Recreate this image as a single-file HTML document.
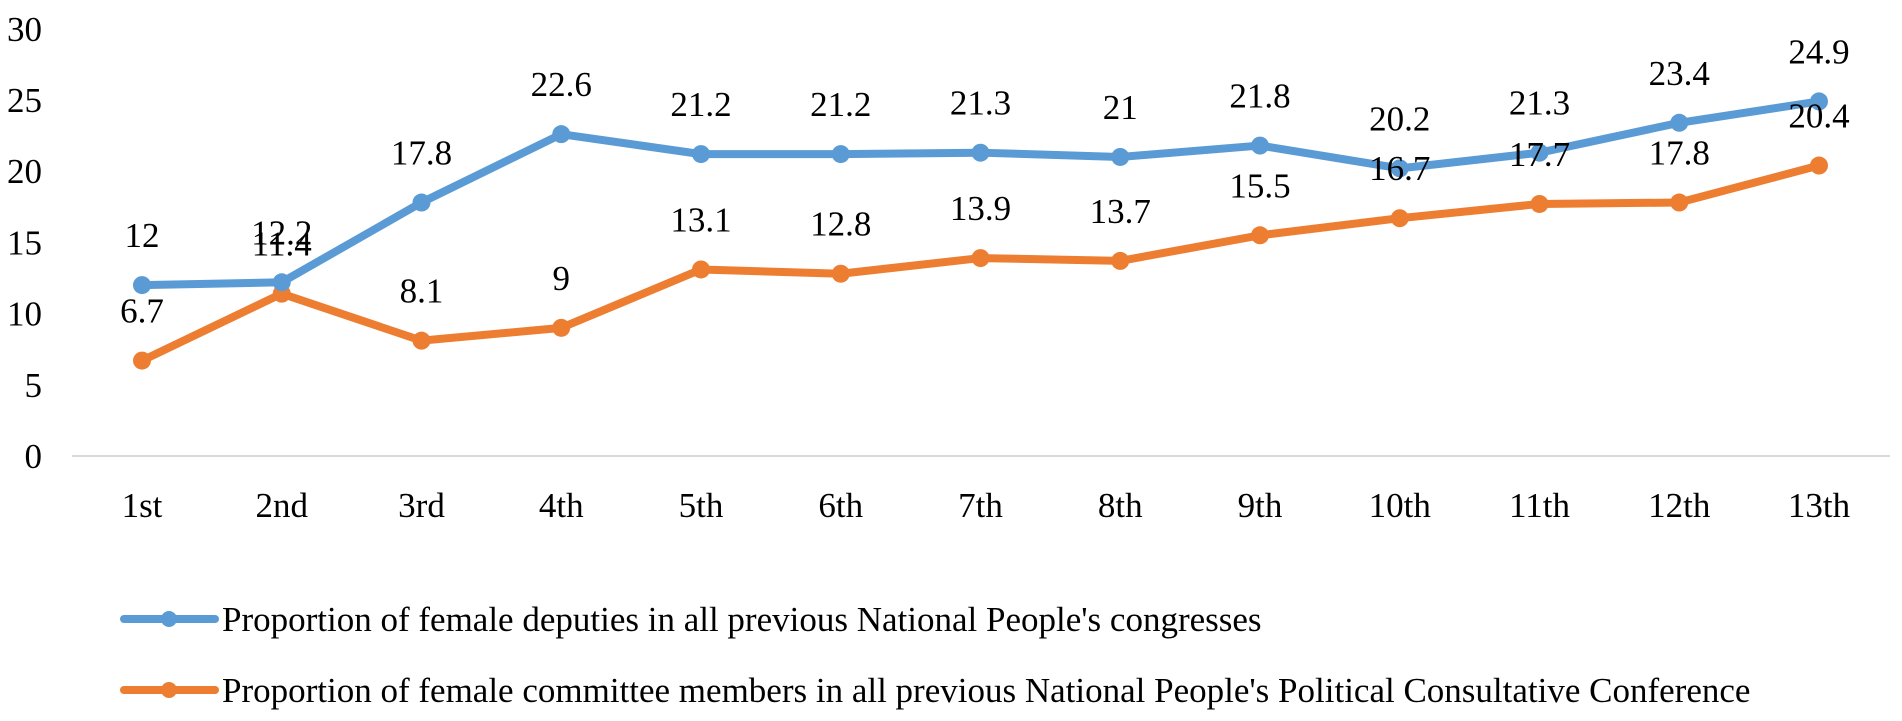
<!DOCTYPE html>
<html><head><meta charset="utf-8"><style>
body{margin:0;background:#fff;}
svg{display:block;font-family:"Liberation Serif",serif;}
</style></head><body>
<svg id="chart" width="1902" height="721" viewBox="0 0 1902 721" xmlns="http://www.w3.org/2000/svg">
<g id="yaxis"></g>
<line x1="72" y1="456" x2="1890" y2="456" stroke="#d9d9d9" stroke-width="2"/>
<g id="xaxis"></g>
<g id="series"></g>
<g>
 <g>
  <line x1="124" y1="619" x2="215" y2="619" stroke="#5b9bd5" stroke-width="8" stroke-linecap="round"/>
  <circle cx="169" cy="619" r="8" fill="#5b9bd5"/>
  <text x="222" y="631" font-size="35" fill="#000">Proportion of female deputies in all previous National People's congresses</text>
 </g>
 <g>
  <line x1="124" y1="690" x2="215" y2="690" stroke="#ed7d31" stroke-width="8" stroke-linecap="round"/>
  <circle cx="169" cy="690" r="8" fill="#ed7d31"/>
  <text x="222" y="702" font-size="35" fill="#000">Proportion of female committee members in all previous National People's Political Consultative Conference</text>
 </g>
</g>
</svg>
<script>
const categories=["1st","2nd","3rd","4th","5th","6th","7th","8th","9th","10th","11th","12th","13th"];
const deputies=[12,12.2,17.8,22.6,21.2,21.2,21.3,21,21.8,20.2,21.3,23.4,24.9];
const committee=[6.7,11.4,8.1,9,13.1,12.8,13.9,13.7,15.5,16.7,17.7,17.8,20.4];
const yTicks=[0,5,10,15,20,25,30];
const NS="http://www.w3.org/2000/svg";
const x0=142,dx=139.75,y0=456,ppu=14.24;
function xs(i){return x0+i*dx;}
function ys(v){return y0-v*ppu;}
function mk(tag,attrs,parent){const e=document.createElementNS(NS,tag);for(const k in attrs)e.setAttribute(k,attrs[k]);parent.appendChild(e);return e;}
const ya=document.getElementById('yaxis');
yTicks.forEach(t=>{
 const e=mk('text',{x:42,y:ys(t)+12,'font-size':35,'text-anchor':'end',fill:'#000'},ya);
 e.textContent=t;
 
 
});
const xa=document.getElementById('xaxis');
categories.forEach((c,i)=>{
 const e=mk('text',{x:xs(i),y:517,'font-size':35,'text-anchor':'middle',fill:'#000'},xa);
 e.textContent=c;
 
 
});
const sg=document.getElementById('series');
[[committee,'#ed7d31','committee'],[deputies,'#5b9bd5','deputies']].forEach(([data,col,nm])=>{
 const pl=mk('polyline',{points:data.map((v,i)=>xs(i)+','+ys(v)).join(' '),fill:'none',stroke:col,'stroke-width':8,'stroke-linejoin':'round'},sg);
 
 
 data.forEach((v,i)=>{
  const c=mk('circle',{cx:xs(i),cy:ys(v),r:9,fill:col},sg);
  
  
 });
});
[deputies,committee].forEach((data,si)=>{
 data.forEach((v,i)=>{
  const t=mk('text',{x:xs(i),y:ys(v)-38,'font-size':35,'text-anchor':'middle',fill:'#000'},sg);
  t.textContent=v;
  
  
 });
});
</script>
</body></html>
